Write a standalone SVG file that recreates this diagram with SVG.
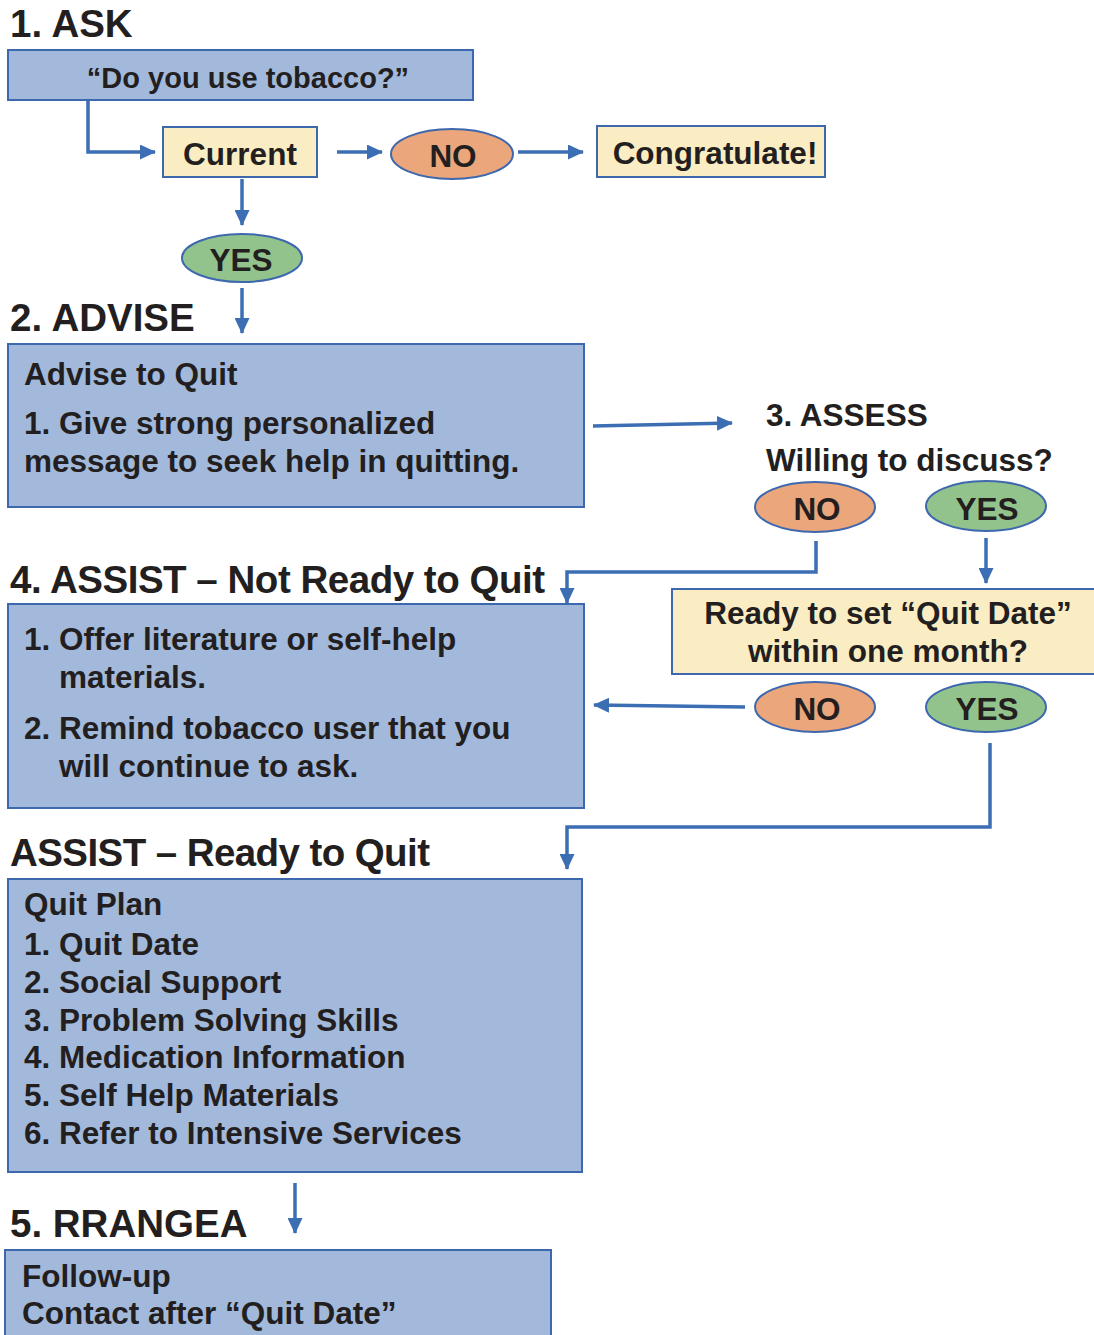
<svg xmlns="http://www.w3.org/2000/svg" width="1094" height="1335" viewBox="0 0 1094 1335">
  <defs>
    <style>
      .t { font-family: "Liberation Sans", Arial, sans-serif; font-weight: bold; fill: #231F20; }
      .h { font-size: 38.5px; }
      .n { font-size: 31.5px; }
      .c { text-anchor: middle; }
      .blue { fill: #A2B9DB; stroke: #3E68AE; stroke-width: 2; }
      .yel { fill: #FBEDC3; stroke: #3E68AE; stroke-width: 2; }
      .org { fill: #EBA67B; stroke: #3E68AE; stroke-width: 2; }
      .grn { fill: #93C38D; stroke: #3E68AE; stroke-width: 2; }
      .ln { fill: none; stroke: #3C6EB4; stroke-width: 3.5; marker-end: url(#ah); }
    </style>
    <marker id="ah" markerUnits="userSpaceOnUse" markerWidth="17" markerHeight="15" refX="15" refY="7.5" orient="auto">
      <path d="M0,0 L16,7.5 L0,15 z" fill="#3C6EB4"/>
    </marker>
  </defs>
  <rect width="1094" height="1335" fill="#FFFFFF"/>

  <!-- section headings -->
  <g id="headings">
    <text class="t h" x="10" y="37">1. ASK</text>
    <text class="t h" x="10" y="331">2. ADVISE</text>
    <text class="t h" x="10" y="593" textLength="535" lengthAdjust="spacing">4. ASSIST – Not Ready to Quit</text>
    <text class="t h" x="10" y="866" textLength="420" lengthAdjust="spacing">ASSIST – Ready to Quit</text>
    <text class="t h" x="10" y="1237">5. RRANGEA</text>
  </g>

  <!-- connectors -->
  <g id="connectors">
    <path class="ln" d="M88,101 L88,152 L155,152"/>
    <path class="ln" d="M337,152 L382,152"/>
    <path class="ln" d="M518,152 L583,152"/>
    <path class="ln" d="M242,179 L242,225"/>
    <path class="ln" d="M242,288 L242,333"/>
    <path class="ln" d="M593,426 L732,423"/>
    <path class="ln" d="M816,541 L816,572 L567,572 L567,603"/>
    <path class="ln" d="M986,538 L986,583"/>
    <path class="ln" d="M745,707 L594,705"/>
    <path class="ln" d="M990,743 L990,827 L567,827 L567,869"/>
    <path class="ln" d="M295,1183 L295,1233"/>
  </g>

  <g id="ask">
    <rect class="blue" x="8" y="50" width="465" height="50"/>
    <text class="t c" style="font-size:29px" x="248" y="88">“Do you use tobacco?”</text>
  </g>

  <g id="current">
    <rect class="yel" x="163" y="127" width="154" height="50"/>
    <text class="t n c" x="240" y="165">Current</text>
  </g>

  <g id="no-ask">
    <ellipse class="org" cx="452" cy="154" rx="61" ry="25"/>
    <text class="t n c" x="453" y="167">NO</text>
  </g>

  <g id="congratulate">
    <rect class="yel" x="597" y="126" width="228" height="51"/>
    <text class="t n c" x="715" y="164">Congratulate!</text>
  </g>

  <g id="yes-ask">
    <ellipse class="grn" cx="242" cy="258" rx="60" ry="24"/>
    <text class="t n c" x="241" y="271">YES</text>
  </g>

  <g id="advise">
    <rect class="blue" x="8" y="344" width="576" height="163"/>
    <text class="t n" x="24" y="385">Advise to Quit</text>
    <text class="t n" x="24" y="434">1. Give strong personalized</text>
    <text class="t n" x="24" y="472">message to seek help in quitting.</text>
  </g>

  <g id="assess">
    <text class="t n" x="766" y="426">3. ASSESS</text>
    <text class="t n" x="766" y="471">Willing to discuss?</text>
  </g>

  <g id="no-assess">
    <ellipse class="org" cx="815" cy="507" rx="60" ry="25"/>
    <text class="t n c" x="817" y="520">NO</text>
  </g>

  <g id="yes-assess">
    <ellipse class="grn" cx="986" cy="506" rx="60" ry="25"/>
    <text class="t n c" x="987" y="520">YES</text>
  </g>

  <g id="ready">
    <rect class="yel" x="672" y="589" width="430" height="85"/>
    <text class="t n c" x="888" y="624">Ready to set “Quit Date”</text>
    <text class="t n c" x="888" y="662">within one month?</text>
  </g>

  <g id="assist-not-ready">
    <rect class="blue" x="8" y="604" width="576" height="204"/>
    <text class="t n" x="24" y="650">1. Offer literature or self-help</text>
    <text class="t n" x="59" y="688">materials.</text>
    <text class="t n" x="24" y="739">2. Remind tobacco user that you</text>
    <text class="t n" x="59" y="777">will continue to ask.</text>
  </g>

  <g id="no-ready">
    <ellipse class="org" cx="815" cy="707" rx="60" ry="25"/>
    <text class="t n c" x="817" y="720">NO</text>
  </g>

  <g id="yes-ready">
    <ellipse class="grn" cx="986" cy="707" rx="60" ry="25"/>
    <text class="t n c" x="987" y="720">YES</text>
  </g>

  <g id="quit-plan">
    <rect class="blue" x="8" y="879" width="574" height="293"/>
    <text class="t n" x="24" y="915">Quit Plan</text>
    <text class="t n" x="24" y="955">1. Quit Date</text>
    <text class="t n" x="24" y="993">2. Social Support</text>
    <text class="t n" x="24" y="1031">3. Problem Solving Skills</text>
    <text class="t n" x="24" y="1068">4. Medication Information</text>
    <text class="t n" x="24" y="1106">5. Self Help Materials</text>
    <text class="t n" x="24" y="1144">6. Refer to Intensive Services</text>
  </g>

  <g id="follow-up">
    <rect class="blue" x="5" y="1250" width="546" height="95"/>
    <text class="t n" x="22" y="1287">Follow-up</text>
    <text class="t n" x="22" y="1324">Contact after “Quit Date”</text>
  </g>
</svg>
